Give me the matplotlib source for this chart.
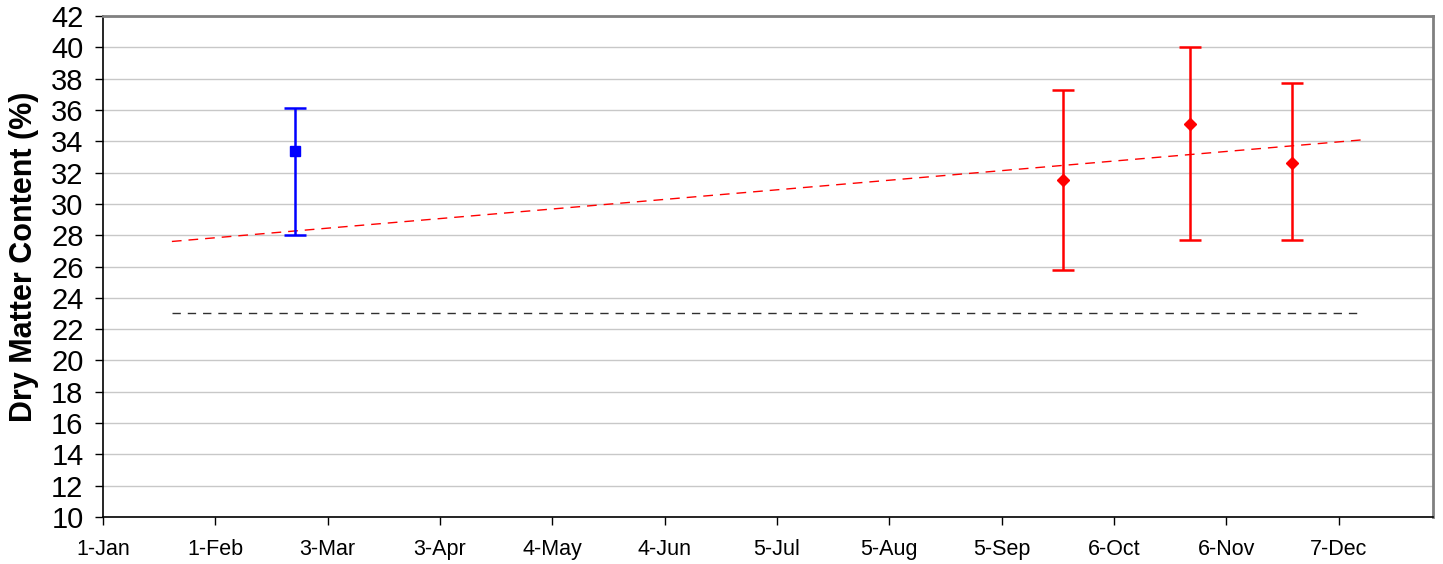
import datetime as dt
import matplotlib
matplotlib.use("Agg")
import matplotlib.pyplot as plt
import matplotlib.dates as mdates

plt.rcParams["font.family"] = ["Liberation Sans", "DejaVu Sans"]

# winter sample (blue)
blue_dates = [dt.date(2008, 2, 23)]
blue_mean = [33.4]
blue_low = [28.0]
blue_high = [36.1]

# autumn samples (red)
red_dates = [dt.date(2008, 9, 22), dt.date(2008, 10, 27), dt.date(2008, 11, 24)]
red_mean = [31.5, 35.1, 32.6]
red_low = [25.8, 27.7, 27.7]
red_high = [37.3, 40.0, 37.7]

# trend line and threshold line
trend_dates = [dt.date(2008, 1, 20), dt.date(2008, 12, 14)]
trend_values = [27.6, 34.1]
limit_dates = [dt.date(2008, 1, 20), dt.date(2008, 12, 13)]
limit_values = [23, 23]

tick_dates = [dt.date(2008, 1, 1) + dt.timedelta(days=31 * i) for i in range(12)]


def main():
    fig = plt.figure(figsize=(14.43, 5.64), dpi=100)
    ax = fig.add_axes([0.0714, 0.0833, 0.9216, 0.8883])

    ax.set_ylim(10, 42)
    ax.set_yticks(range(10, 43, 2))
    ax.set_xlim(dt.date(2008, 1, 1), dt.date(2009, 1, 2))
    ax.set_xticks(tick_dates)
    ax.xaxis.set_major_formatter(mdates.DateFormatter("%-d-%b"))

    ax.grid(axis="y", color="#c8c8c8", linewidth=1.0, zorder=0)
    ax.set_axisbelow(True)

    ax.plot(limit_dates, limit_values, color="#303030", linewidth=1.0,
            dashes=(6, 5), zorder=2)
    ax.plot(trend_dates, trend_values, color="red", linewidth=1.0,
            dashes=(7, 5), zorder=2)

    b_err = [[m - lo for m, lo in zip(blue_mean, blue_low)],
             [hi - m for m, hi in zip(blue_mean, blue_high)]]
    ax.errorbar(blue_dates, blue_mean, yerr=b_err, fmt="s", color="#0000ff",
                markersize=6.5, elinewidth=1.8, capsize=8, capthick=1.8, zorder=3)

    r_err = [[m - lo for m, lo in zip(red_mean, red_low)],
             [hi - m for m, hi in zip(red_mean, red_high)]]
    ax.errorbar(red_dates, red_mean, yerr=r_err, fmt="D", color="#ff0000",
                markersize=6.5, elinewidth=1.8, capsize=8, capthick=1.8, zorder=3)

    ax.set_ylabel("Dry Matter Content (%)", fontsize=22, fontweight="bold")
    ax.yaxis.set_label_coords(-0.048, 0.52)
    ax.tick_params(axis="y", labelsize=21, length=6, width=1, direction="out", pad=8)
    ax.tick_params(axis="x", labelsize=15.5, length=6, width=1, direction="out", pad=10)

    for side in ["top", "right"]:
        ax.spines[side].set_color("#808080")
        ax.spines[side].set_linewidth(2)
    for side in ["left", "bottom"]:
        ax.spines[side].set_color("black")
        ax.spines[side].set_linewidth(1.2)

    fig.savefig("out.png", dpi=100)


if __name__ == "__main__":
    main()
